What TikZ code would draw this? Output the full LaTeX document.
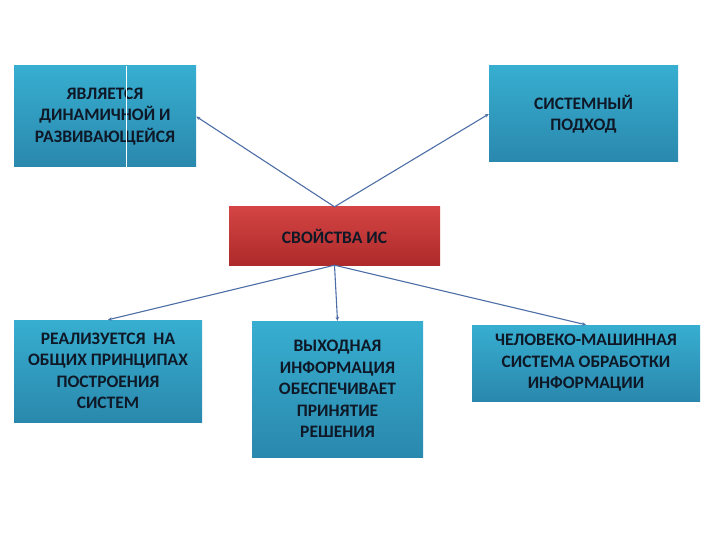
\documentclass[tikz,border=0pt]{standalone}
\usepackage{fontspec}
\setmainfont{Carlito}
\usetikzlibrary{arrows.meta}
\definecolor{boxtop}{HTML}{37AED0}
\definecolor{boxbot}{HTML}{2A88AD}
\definecolor{redtop}{HTML}{D44444}
\definecolor{redbot}{HTML}{AE2A2A}
\definecolor{txt}{HTML}{0E1826}
\definecolor{link}{HTML}{4D6DA6}
\tikzset{
  bluebox/.style={rectangle, top color=boxtop, bottom color=boxbot, draw=none,
    align=center, text=txt, font=\fontsize{17.5}{21.5}\selectfont\bfseries, inner sep=0pt},
  redbox/.style={rectangle, top color=redtop, bottom color=redbot, draw=none,
    align=center, text=txt, font=\fontsize{17.5}{21.5}\selectfont\bfseries, inner sep=0pt},
  conn/.style={draw=link, line width=1.1pt, -{Stealth[length=4pt,width=3.5pt]}}
}
\begin{document}
\begin{tikzpicture}[x=1pt,y=-1pt]
\useasboundingbox (0,0) rectangle (720,540);
\node[bluebox, minimum width=182pt, minimum height=101pt] (a) at (105,116.5) {ЯВЛЯЕТСЯ\\ДИНАМИЧНОЙ И\\РАЗВИВАЮЩЕЙСЯ};
\draw[white, line width=1pt] (126,66) -- (126,167);
\node[bluebox, minimum width=189pt, minimum height=96pt] (b) at (583.5,114) {СИСТЕМНЫЙ\\ПОДХОД};
\node[redbox, minimum width=211pt, minimum height=58pt] (s) at (334.5,236) {СВОЙСТВА ИС};
\node[bluebox, minimum width=188pt, minimum height=102pt] (c) at (108,371) {РЕАЛИЗУЕТСЯ\ \ НА\\ОБЩИХ ПРИНЦИПАХ\\ПОСТРОЕНИЯ\\СИСТЕМ};
\node[bluebox, minimum width=171pt, minimum height=136pt] (d) at (337.5,389) {ВЫХОДНАЯ\\ИНФОРМАЦИЯ\\ОБЕСПЕЧИВАЕТ\\ПРИНЯТИЕ\\РЕШЕНИЯ};
\node[bluebox, minimum width=228pt, minimum height=76pt] (e) at (586,363) {ЧЕЛОВЕКО-МАШИННАЯ\\СИСТЕМА ОБРАБОТКИ\\ИНФОРМАЦИИ};
\draw[conn] (s.north) -- (a.east);
\draw[conn] (s.north) -- (b.west);
\draw[conn] (s.south) -- (c.north);
\draw[conn] (s.south) -- (d.north);
\draw[conn] (s.south) -- (e.north);
\end{tikzpicture}
\end{document}
